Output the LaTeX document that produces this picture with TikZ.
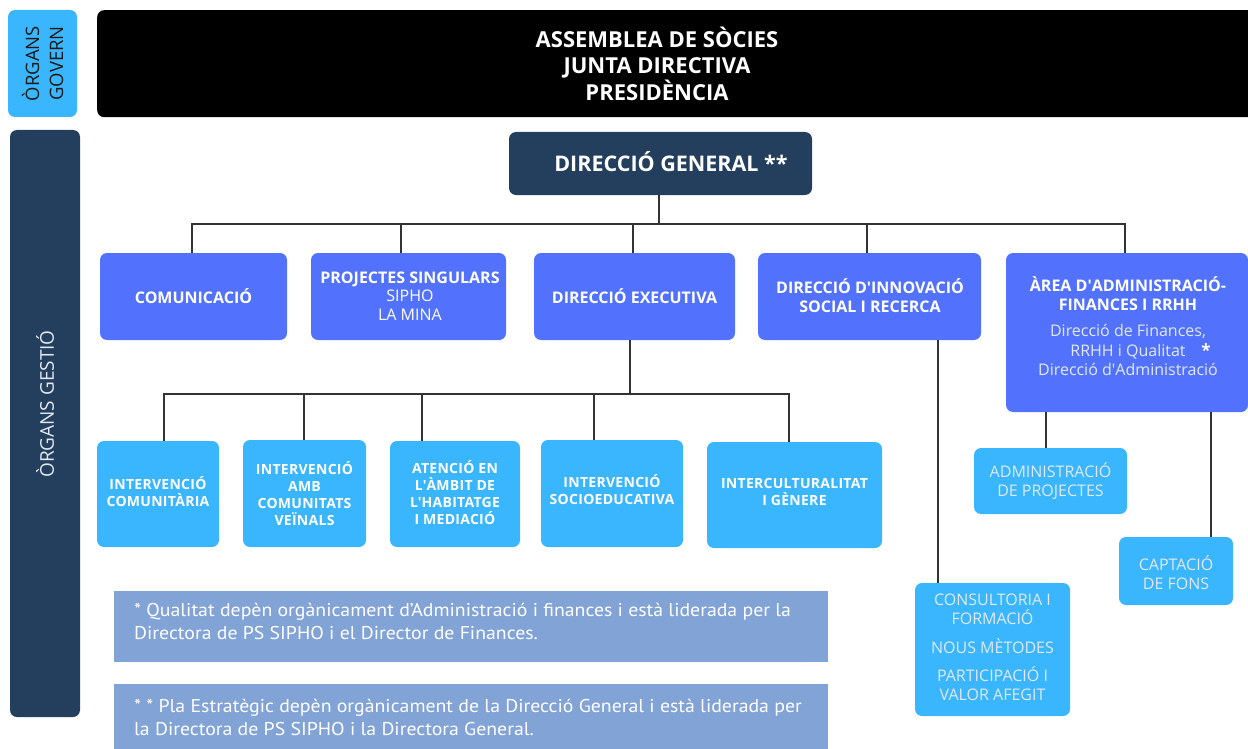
\documentclass[tikz,border=0pt]{standalone}
\usepackage{fontspec}
\setmainfont{Open Sans}
\newfontfamily\notefont[FakeStretch=1.07]{PT Sans}
\newcommand{\sq}{\textquotesingle}
\definecolor{lblue}{HTML}{3AB6FE}
\definecolor{royal}{HTML}{5272FE}
\definecolor{navy}{HTML}{243F5E}
\definecolor{notebg}{HTML}{82A3D6}
\definecolor{wire}{HTML}{333333}
\definecolor{pale}{HTML}{E2E8F2}
\tikzset{
  box/.style={draw=none, rounded corners=7pt, inner sep=0pt, align=center, text=white},
  rbox/.style={box, fill=royal},
  lbox/.style={box, fill=lblue},
  bf16/.style={font=\fontsize{16}{19}\selectfont\bfseries},
  bf14/.style={font=\fontsize{14}{17}\selectfont\bfseries\addfontfeature{LetterSpace=2}},
  rg16/.style={font=\fontsize{16}{19}\selectfont},
  conn/.style={draw=wire, line width=1.3pt},
  notebox/.style={fill=notebg, draw=none, inner sep=0pt, anchor=north west},
  notetext/.style={anchor=west, align=left, inner sep=0pt, text=white, font=\notefont\fontsize{18.5}{23}\selectfont}
}
\begin{document}
\begin{tikzpicture}[x=1pt,y=-1pt]
\useasboundingbox (0,0) rectangle (1248,749);
% left labels
\node[box, fill=lblue, minimum width=69pt, minimum height=107pt] (og) at (42.5,63.5) {};
\node[rotate=90, align=center, text=black!90, font=\fontsize{18.5}{24}\selectfont, inner sep=0pt] (ogt) at (og.center) {ÒRGANS\\GOVERN};
\node[box, fill=navy, minimum width=70pt, minimum height=587pt] (ges) at (45,423.5) {};
\node[rotate=90, text=pale, font=\fontsize{19}{22}\selectfont, inner sep=0pt] (gest) at (45,404) {ÒRGANS GESTIÓ};
% top black
\node[box, fill=black, minimum width=1170pt, minimum height=107pt, anchor=north west] (top) at (97,10) {};
\node[text=white, align=center, inner sep=0pt, font=\fontsize{22}{26.5}\selectfont\bfseries] (topt) at (657,63.5) {ASSEMBLEA DE SÒCIES\\JUNTA DIRECTIVA\\PRESIDÈNCIA};
% direccio general
\node[box, fill=navy, minimum width=303pt, minimum height=63pt] (dg) at (660.5,163.5) {};
\node[text=white, inner sep=0pt, font=\fontsize{21.5}{24}\selectfont\bfseries] (dgt) at (671,162) {DIRECCIÓ GENERAL **};
% row 1
\node[rbox, bf16, minimum width=187pt, minimum height=87pt] (com) at (193.5,296.5) {COMUNICACIÓ};
\node[rbox, minimum width=195pt, minimum height=87pt] (proj) at (408.5,296.5) {};
\node[text=white, align=center, inner sep=0pt, font=\fontsize{16}{18.5}\selectfont] (projt) at (410,296) {{\bfseries PROJECTES SINGULARS}\\SIPHO\\LA MINA};
\node[rbox, bf16, minimum width=201pt, minimum height=87pt] (dexe) at (634.5,296.5) {DIRECCIÓ EXECUTIVA};
\node[rbox, minimum width=223pt, minimum height=87pt] (innov) at (869.5,296.5) {};
\node[text=white, align=center, inner sep=0pt, bf16] (innovt) at (870,295.5) {DIRECCIÓ D\sq INNOVACIÓ\\SOCIAL I RECERCA};
\node[rbox, minimum width=242pt, minimum height=159pt] (area) at (1127,332.5) {};
\node[text=white, align=center, inner sep=0pt, bf16] (areat1) at (1128,293.5) {ÀREA D\sq ADMINISTRACIÓ-\\FINANCES I RRHH};
\node[text=pale, align=center, inner sep=0pt, font=\fontsize{16}{19.5}\selectfont] (areat2) at (1128,350) {Direcció de Finances,\\RRHH i Qualitat\\Direcció d\sq Administració};
\node[text=white, inner sep=0pt, font=\fontsize{17}{17}\selectfont\bfseries] (star) at (1206,350) {*};
% row 2
\node[lbox, minimum width=122pt, minimum height=106pt] (ic) at (158,494) {};
\node[text=white, align=center, inner sep=0pt, bf14] (ict) at (158,491.5) {INTERVENCIÓ\\COMUNITÀRIA};
\node[lbox, minimum width=123pt, minimum height=107pt] (iamb) at (304.5,493.5) {};
\node[text=white, align=center, inner sep=0pt, bf14] (iambt) at (304.5,493.5) {INTERVENCIÓ\\AMB\\COMUNITATS\\VEÏNALS};
\node[lbox, minimum width=130pt, minimum height=106pt] (aten) at (455,494) {};
\node[text=white, align=center, inner sep=0pt, bf14] (atent) at (455,493) {ATENCIÓ EN\\L\sq ÀMBIT DE\\L\sq HABITATGE\\I MEDIACIÓ};
\node[lbox, minimum width=142pt, minimum height=107pt] (soc) at (612,493.5) {};
\node[text=white, align=center, inner sep=0pt, bf14] (soct) at (612,489.5) {INTERVENCIÓ\\SOCIOEDUCATIVA};
\node[lbox, minimum width=175pt, minimum height=106pt] (intc) at (794.5,495) {};
\node[text=white, align=center, inner sep=0pt, bf14] (intct) at (794.5,491.5) {INTERCULTURALITAT\\I GÈNERE};
% right column boxes
\node[lbox, minimum width=153pt, minimum height=66pt] (adp) at (1050.5,481) {};
\node[text=pale, align=center, inner sep=0pt, rg16] (adpt) at (1050.5,481.5) {ADMINISTRACIÓ\\DE PROJECTES};
\node[lbox, minimum width=114pt, minimum height=68pt] (cap) at (1176,571) {};
\node[text=pale, align=center, inner sep=0pt, rg16] (capt) at (1176,572.5) {CAPTACIÓ\\DE FONS};
\node[lbox, minimum width=155pt, minimum height=133pt] (cons) at (992.5,649.5) {};
\node[text=pale, align=center, inner sep=0pt, rg16] (const) at (992.5,647.5) {CONSULTORIA I\\FORMACIÓ\\[10pt]NOUS MÈTODES\\[9pt]PARTICIPACIÓ I\\VALOR AFEGIT};
% notes
\node[notebox, minimum width=714pt, minimum height=71pt] (n1) at (114,591) {};
\node[notetext] (n1t) at (134,621) {* Qualitat depèn orgànicament d’Administració i finances i està liderada per la\\Directora de PS SIPHO i el Director de Finances.};
\node[notebox, minimum width=714pt, minimum height=70pt] (n2) at (114,684) {};
\node[notetext] (n2t) at (134,717) {* * Pla Estratègic depèn orgànicament de la Direcció General i està liderada per\\la Directora de PS SIPHO i la Directora General.};
% connectors level 1
\coordinate (b1) at (659,224);
\draw[conn] (dg.south -| b1) -- (b1);
\draw[conn] ([xshift=-1.5pt]com.north) |- (b1) -| ([xshift=-2pt]area.north);
\draw[conn] ([xshift=-7.5pt]proj.north) -- ([xshift=-7.5pt]proj.north |- b1);
\draw[conn] ([xshift=-1.5pt]dexe.north) -- ([xshift=-1.5pt]dexe.north |- b1);
\draw[conn] ([xshift=-2.5pt]innov.north) -- ([xshift=-2.5pt]innov.north |- b1);
% connectors level 2
\coordinate (b2) at (630,394);
\draw[conn] ([xshift=-4.5pt]dexe.south) -- (b2);
\draw[conn] ([xshift=6pt]ic.north) |- (b2) -| ([xshift=-5.5pt]intc.north);
\draw[conn] ([xshift=-0.5pt]iamb.north) -- ([xshift=-0.5pt]iamb.north |- b2);
\draw[conn] ([xshift=-33pt]aten.north) -- ([xshift=-33pt]aten.north |- b2);
\draw[conn] ([xshift=-18pt]soc.north) -- ([xshift=-18pt]soc.north |- b2);
% innovation and area
\draw[conn] ([xshift=68.5pt]innov.south) -- ([xshift=68.5pt]innov.south |- cons.north);
\draw[conn] ([xshift=-81pt]area.south) -- ([xshift=-81pt]area.south |- adp.north);
\draw[conn] ([xshift=84pt]area.south) -- ([xshift=84pt]area.south |- cap.north);
\end{tikzpicture}
\end{document}
